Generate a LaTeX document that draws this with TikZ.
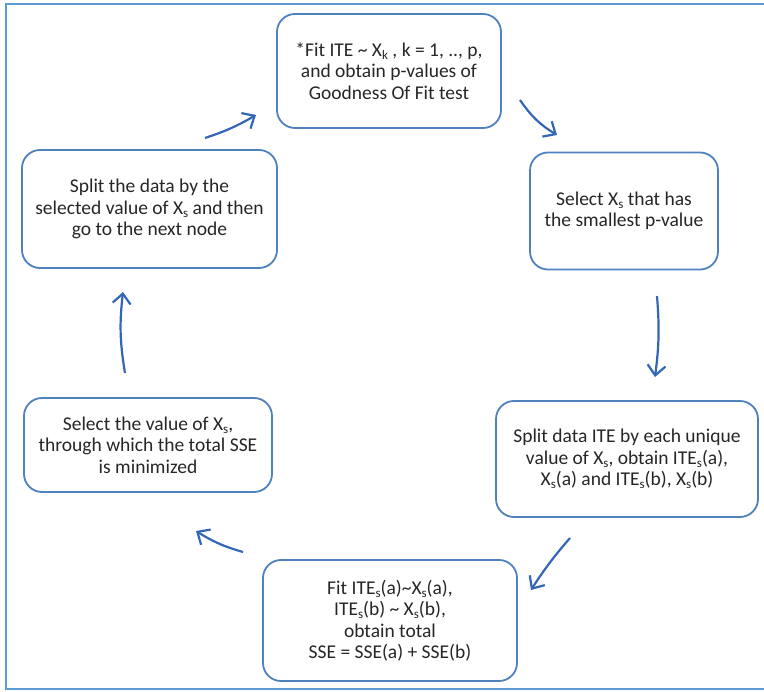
\documentclass[tikz,border=0pt]{standalone}
\usepackage{fontspec}
\setmainfont{Carlito}
\usetikzlibrary{arrows.meta}
\definecolor{boxblue}{RGB}{79,129,189}
\definecolor{arrowblue}{RGB}{52,102,182}
\definecolor{frameblue}{RGB}{91,155,213}
\definecolor{inkgray}{RGB}{38,38,38}
% small lowered subscript in text
\newcommand{\sbs}[1]{\raisebox{-0.35ex}{\fontsize{13}{13}\selectfont #1}}
\begin{document}
\begin{tikzpicture}[x=1pt,y=-1pt,
  stepbox/.style={draw=boxblue, line width=1.8pt, rounded corners=18pt,
    align=center, inner sep=0pt, text=inkgray,
    font=\fontsize{19.5}{21.5}\selectfont},
  flow/.style={draw=arrowblue, line width=2.2pt,
    -{Straight Barb[length=10pt,width=18pt]}}]
\useasboundingbox (0,0) rectangle (764,692);
% frame around the chart (open on the right)
\draw[frameblue, line width=2.5pt] (764,4) -- (6,4) -- (6,689) -- (764,689);

% process steps
\node[stepbox, minimum width=224pt, minimum height=114pt] (fit) at (389,71)
  {*Fit ITE \textasciitilde{} X\sbs{k} , k = 1, .., p,\\ and obtain p-values of\\ Goodness Of Fit test};
\node[stepbox, minimum width=188pt, minimum height=117pt] (sel) at (624,211)
  {Select X\sbs{s} that has\\ the smallest p-value};
\node[stepbox, minimum width=262pt, minimum height=116pt] (split) at (627,459)
  {Split data ITE by each unique\\ value of X\sbs{s}, obtain ITE\sbs{s}(a),\\ X\sbs{s}(a) and ITE\sbs{s}(b), X\sbs{s}(b)};
\node[stepbox, minimum width=254pt, minimum height=121pt] (sse) at (390,620.5)
  {Fit ITE\sbs{s}(a)\textasciitilde X\sbs{s}(a),\\ ITE\sbs{s}(b) \textasciitilde{} X\sbs{s}(b),\\ obtain total\\ SSE = SSE(a) + SSE(b)};
\node[stepbox, minimum width=248pt, minimum height=94pt] (minim) at (148,445)
  {Select the value of X\sbs{s},\\ through which the total SSE\\ is minimized};
\node[stepbox, minimum width=255pt, minimum height=118pt] (next) at (149.5,209)
  {Split the data by the\\ selected value of X\sbs{s} and then\\ go to the next node};

% arrow end points between the steps
\coordinate (a1) at (520,100);  \coordinate (a2) at (557,135);
\coordinate (b1) at (657,296);  \coordinate (b2) at (655,377);
\coordinate (c1) at (570,538);  \coordinate (c2) at (531,590);
\coordinate (d1) at (243,552);  \coordinate (d2) at (196,531);
\coordinate (e1) at (125,373);  \coordinate (e2) at (123,292);
\coordinate (f1) at (205,138);  \coordinate (f2) at (256,115);

\draw[flow] (a1) to[bend right=12] (a2);
\draw[flow] (b1) to[bend left=6] (b2);
\draw[flow] (c1) to[bend right=4] (c2);
\draw[flow] (d1) to[bend left=8] (d2);
\draw[flow] (e1) to[bend left=8] (e2);
\draw[flow] (f1) to[bend right=6] (f2);
\end{tikzpicture}
\end{document}
